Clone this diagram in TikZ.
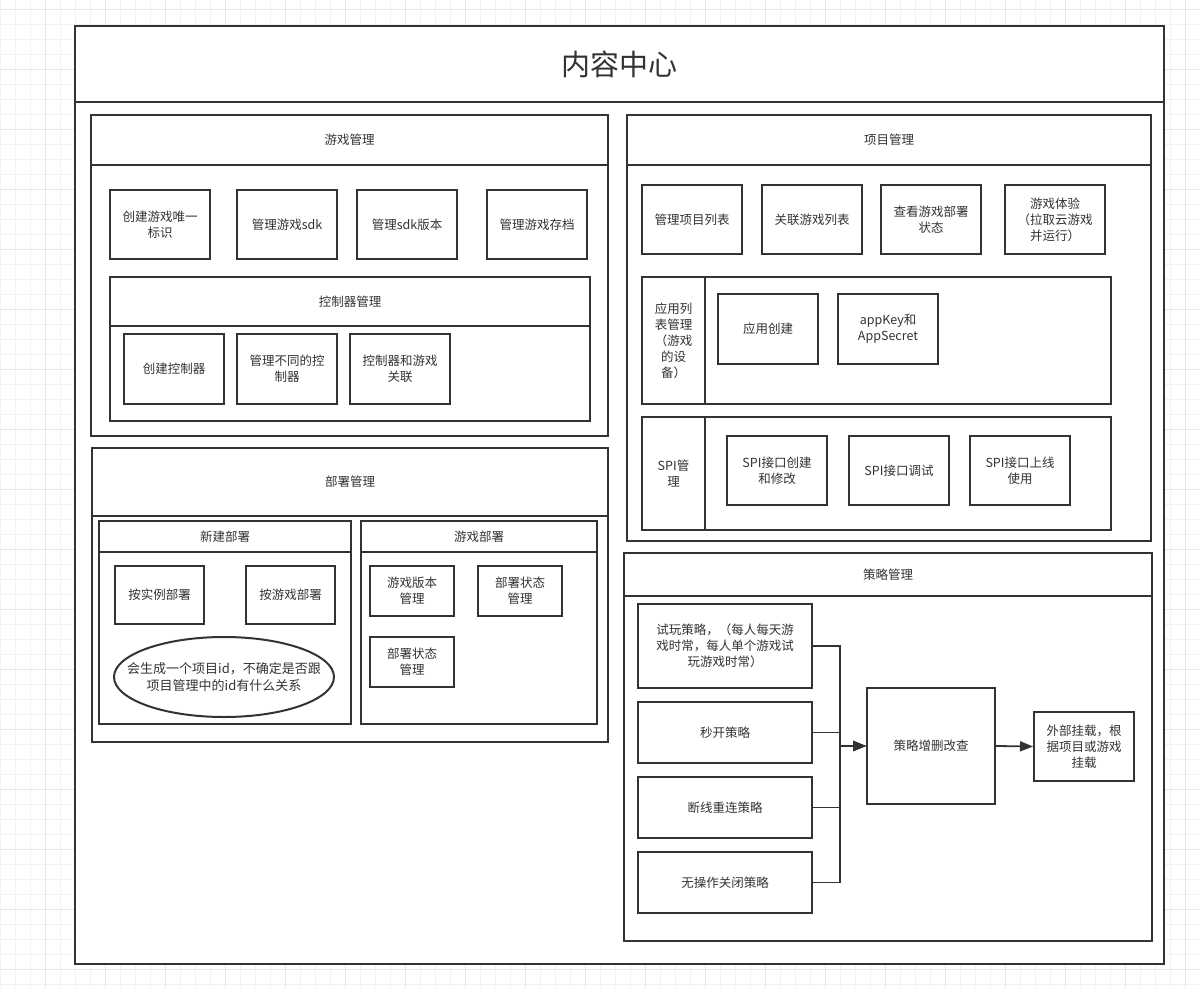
\documentclass[tikz,border=0pt]{standalone}
\usepackage{fontspec}
\setmainfont{Noto Sans CJK SC}
\usetikzlibrary{arrows.meta,shapes.geometric}
\definecolor{ink}{HTML}{333333}
\definecolor{gminor}{HTML}{F2F2F2}
\definecolor{gmajor}{HTML}{E6E6E6}
\tikzset{
  box/.style={draw=ink,line width=2pt,fill=white,inner sep=1pt,align=center,text=ink,font=\fontsize{12.5}{16}\selectfont},
  conn/.style={draw=ink,line width=1.8pt,-{Triangle[length=13pt,width=10pt]}},
  lbl/.style={align=center,text=ink,inner sep=0pt,font=\fontsize{13}{17}\selectfont},
}
\newcommand\rbox[6]{\node[box,anchor=north west,minimum width={(#4)-(#2)},minimum height={(#5)-(#3)}] (#1) at (#2,#3) {#6};}
\begin{document}
\begin{tikzpicture}[x=1pt,y=-1pt]
\useasboundingbox (0,0) rectangle (1199,988);
% grid
\foreach \x in {0,15,...,1199} \draw[gminor,line width=1pt] (\x,0) -- (\x,988);
\foreach \y in {9,24,...,988} \draw[gminor,line width=1pt] (0,\y) -- (1199,\y);
\foreach \x in {45,105,...,1199} \draw[gmajor,line width=1pt] (\x,0) -- (\x,988);
\foreach \y in {9,69,...,988} \draw[gmajor,line width=1pt] (0,\y) -- (1199,\y);
% main
\rbox{mainhead}{74}{25}{1163}{101}{\fontsize{29}{34}\selectfont 内容中心}
\rbox{mainbody}{74}{101}{1163}{963}{}
% 游戏管理
\rbox{ghead}{90}{114}{607}{164}{游戏管理}
\rbox{gbody}{90}{164}{607}{435}{}
\rbox{g1}{109}{189}{209}{258}{创建游戏唯一\\标识}
\rbox{g2}{236}{189}{336}{258}{管理游戏sdk}
\rbox{g3}{356}{189}{456}{258}{管理sdk版本}
\rbox{g4}{486}{189}{586}{258}{管理游戏存档}
\rbox{chead}{109}{276}{589}{325}{控制器管理}
\rbox{cbody}{109}{325}{589}{420}{}
\rbox{c1}{123}{333}{223}{403}{创建控制器}
\rbox{c2}{236}{333}{336}{403}{管理不同的控\\制器}
\rbox{c3}{349}{333}{449}{403}{控制器和游戏\\关联}
% 部署管理
\rbox{dhead}{91}{447}{607}{515}{部署管理}
\rbox{dbody}{91}{515}{607}{741}{}
\rbox{nhead}{98}{520}{350}{551}{新建部署}
\rbox{nbody}{98}{551}{350}{723}{}
\rbox{n1}{114}{565}{203}{623}{按实例部署}
\rbox{n2}{245}{565}{334}{623}{按游戏部署}
\node[box,ellipse,inner sep=0pt,minimum width=220,minimum height=80] (note) at (224,677) {};
\node[lbl] (notetext) at (note.center) {会生成一个项目id，不确定是否跟\\项目管理中的id有什么关系};
\rbox{yhead}{360}{520}{596}{551}{游戏部署}
\rbox{ybody}{360}{551}{596}{723}{}
\rbox{y1}{369}{565}{453}{615}{游戏版本\\管理}
\rbox{y2}{477}{565}{561}{615}{部署状态\\管理}
\rbox{y3}{369}{636}{453}{686}{部署状态\\管理}
% 项目管理
\rbox{phead}{626}{114}{1150}{164}{项目管理}
\rbox{pbody}{626}{164}{1150}{540}{}
\rbox{p1}{641}{184}{741}{253}{管理项目列表}
\rbox{p2}{761}{184}{861}{253}{关联游戏列表}
\rbox{p3}{880}{184}{980}{253}{查看游戏部署\\状态}
\rbox{p4}{1004}{184}{1104}{253}{游戏体验\\（拉取云游戏\\并运行）}
\rbox{ahead}{641}{276}{704}{403}{应用列\\表管理\\（游戏\\的设\\备）}
\rbox{abody}{704}{276}{1110}{403}{}
\rbox{a1}{717}{293}{817}{363}{应用创建}
\rbox{a2}{837}{293}{937}{363}{appKey和\\AppSecret}
\rbox{shead}{641}{416}{704}{529}{SPI管\\理}
\rbox{sbody}{704}{416}{1110}{529}{}
\rbox{s1}{726}{435}{826}{504}{SPI接口创建\\和修改}
\rbox{s2}{848}{435}{948}{504}{SPI接口调试}
\rbox{s3}{969}{435}{1069}{504}{SPI接口上线\\使用}
% 策略管理
\rbox{thead}{623}{552}{1151}{595}{策略管理}
\rbox{tbody}{623}{595}{1151}{940}{}
\rbox{t1}{637}{603}{811}{687}{试玩策略，（每人每天游\\戏时常，每人单个游戏试\\玩游戏时常）}
\rbox{t2}{637}{701}{811}{762}{秒开策略}
\rbox{t3}{637}{776}{811}{837}{断线重连策略}
\rbox{t4}{637}{851}{811}{912}{无操作关闭策略}
\rbox{crud}{866}{687}{994}{803}{策略增删改查}
\rbox{ext}{1033}{711}{1133}{780}{外部挂载，根\\据项目或游戏\\挂载}
\draw[conn] (t1.east) -- ++(27,0) |- (crud.west);
\draw[conn] (t2.east) -- ++(27,0) |- (crud.west);
\draw[conn] (t3.east) -- ++(27,0) |- (crud.west);
\draw[conn] (t4.east) -- ++(27,0) |- (crud.west);
\draw[conn] (crud.east) -- (ext.west);
\end{tikzpicture}
\end{document}
